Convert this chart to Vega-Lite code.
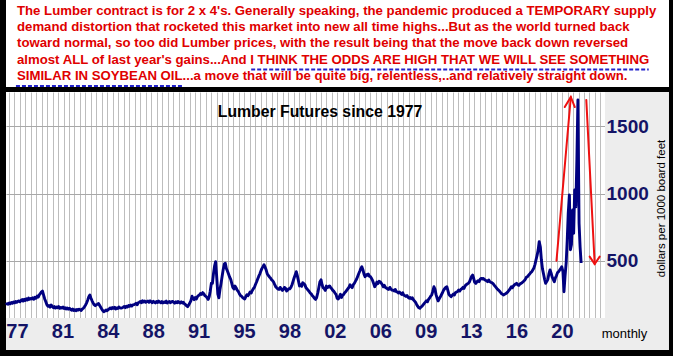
{
  "$schema": "https://vega.github.io/schema/vega-lite/v6.json",
  "background": "#000000",
  "padding": {"left": 4, "top": 0, "right": 6, "bottom": 6},
  "spacing": 5,
  "datasets": {
    "lumber": [
{"t":1977,"v":172},{"t":1977.08,"v":180},{"t":1977.17,"v":176},{"t":1977.25,"v":185},{"t":1977.33,"v":179},{"t":1977.42,"v":188},{"t":1977.5,"v":183},{"t":1977.58,"v":192},{"t":1977.67,"v":186},{"t":1977.75,"v":196},{"t":1977.83,"v":190},{"t":1977.92,"v":197},
{"t":1978,"v":200},{"t":1978.08,"v":194},{"t":1978.17,"v":205},{"t":1978.25,"v":210},{"t":1978.33,"v":199},{"t":1978.42,"v":212},{"t":1978.5,"v":204},{"t":1978.58,"v":216},{"t":1978.67,"v":207},{"t":1978.75,"v":221},{"t":1978.83,"v":212},{"t":1978.92,"v":218},
{"t":1979,"v":215},{"t":1979.08,"v":223},{"t":1979.17,"v":213},{"t":1979.25,"v":228},{"t":1979.33,"v":220},{"t":1979.42,"v":236},{"t":1979.5,"v":229},{"t":1979.58,"v":245},{"t":1979.67,"v":256},{"t":1979.75,"v":268},{"t":1979.83,"v":274},{"t":1979.92,"v":242},
{"t":1980,"v":215},{"t":1980.08,"v":196},{"t":1980.17,"v":172},{"t":1980.25,"v":160},{"t":1980.33,"v":166},{"t":1980.42,"v":154},{"t":1980.5,"v":170},{"t":1980.58,"v":160},{"t":1980.67,"v":150},{"t":1980.75,"v":158},{"t":1980.83,"v":147},{"t":1980.92,"v":155},
{"t":1981,"v":150},{"t":1981.08,"v":158},{"t":1981.17,"v":145},{"t":1981.25,"v":152},{"t":1981.33,"v":147},{"t":1981.42,"v":155},{"t":1981.5,"v":144},{"t":1981.58,"v":150},{"t":1981.67,"v":141},{"t":1981.75,"v":148},{"t":1981.83,"v":139},{"t":1981.92,"v":145},
{"t":1982,"v":137},{"t":1982.08,"v":131},{"t":1982.17,"v":140},{"t":1982.25,"v":129},{"t":1982.33,"v":135},{"t":1982.42,"v":127},{"t":1982.5,"v":137},{"t":1982.58,"v":131},{"t":1982.67,"v":139},{"t":1982.75,"v":134},{"t":1982.83,"v":129},{"t":1982.92,"v":141},
{"t":1983,"v":146},{"t":1983.08,"v":156},{"t":1983.17,"v":170},{"t":1983.25,"v":186},{"t":1983.33,"v":206},{"t":1983.42,"v":232},{"t":1983.5,"v":245},{"t":1983.58,"v":222},{"t":1983.67,"v":201},{"t":1983.75,"v":186},{"t":1983.83,"v":172},{"t":1983.92,"v":165},
{"t":1984,"v":172},{"t":1984.08,"v":176},{"t":1984.17,"v":181},{"t":1984.25,"v":168},{"t":1984.33,"v":155},{"t":1984.42,"v":140},{"t":1984.5,"v":128},{"t":1984.58,"v":120},{"t":1984.67,"v":125},{"t":1984.75,"v":133},{"t":1984.83,"v":127},{"t":1984.92,"v":135},
{"t":1985,"v":141},{"t":1985.08,"v":148},{"t":1985.17,"v":142},{"t":1985.25,"v":151},{"t":1985.33,"v":145},{"t":1985.42,"v":153},{"t":1985.5,"v":140},{"t":1985.58,"v":148},{"t":1985.67,"v":144},{"t":1985.75,"v":155},{"t":1985.83,"v":149},{"t":1985.92,"v":147},
{"t":1986,"v":149},{"t":1986.08,"v":153},{"t":1986.17,"v":159},{"t":1986.25,"v":150},{"t":1986.33,"v":161},{"t":1986.42,"v":155},{"t":1986.5,"v":166},{"t":1986.58,"v":160},{"t":1986.67,"v":169},{"t":1986.75,"v":162},{"t":1986.83,"v":171},{"t":1986.92,"v":173},
{"t":1987,"v":176},{"t":1987.08,"v":182},{"t":1987.17,"v":172},{"t":1987.25,"v":186},{"t":1987.33,"v":190},{"t":1987.42,"v":196},{"t":1987.5,"v":187},{"t":1987.58,"v":201},{"t":1987.67,"v":192},{"t":1987.75,"v":199},{"t":1987.83,"v":190},{"t":1987.92,"v":196},
{"t":1988,"v":199},{"t":1988.08,"v":190},{"t":1988.17,"v":201},{"t":1988.25,"v":195},{"t":1988.33,"v":187},{"t":1988.42,"v":197},{"t":1988.5,"v":191},{"t":1988.58,"v":185},{"t":1988.67,"v":196},{"t":1988.75,"v":189},{"t":1988.83,"v":199},{"t":1988.92,"v":192},
{"t":1989,"v":187},{"t":1989.08,"v":196},{"t":1989.17,"v":185},{"t":1989.25,"v":193},{"t":1989.33,"v":189},{"t":1989.42,"v":199},{"t":1989.5,"v":185},{"t":1989.58,"v":191},{"t":1989.67,"v":196},{"t":1989.75,"v":187},{"t":1989.83,"v":193},{"t":1989.92,"v":197},
{"t":1990,"v":190},{"t":1990.08,"v":184},{"t":1990.17,"v":194},{"t":1990.25,"v":187},{"t":1990.33,"v":196},{"t":1990.42,"v":189},{"t":1990.5,"v":184},{"t":1990.58,"v":193},{"t":1990.67,"v":185},{"t":1990.75,"v":190},{"t":1990.83,"v":179},{"t":1990.92,"v":172},
{"t":1991,"v":163},{"t":1991.08,"v":157},{"t":1991.17,"v":171},{"t":1991.25,"v":186},{"t":1991.33,"v":201},{"t":1991.42,"v":235},{"t":1991.5,"v":219},{"t":1991.58,"v":210},{"t":1991.67,"v":226},{"t":1991.75,"v":214},{"t":1991.83,"v":231},{"t":1991.92,"v":240},
{"t":1992,"v":246},{"t":1992.08,"v":256},{"t":1992.17,"v":249},{"t":1992.25,"v":262},{"t":1992.33,"v":254},{"t":1992.42,"v":239},{"t":1992.5,"v":234},{"t":1992.58,"v":224},{"t":1992.67,"v":212},{"t":1992.75,"v":231},{"t":1992.83,"v":272},{"t":1992.92,"v":333},
{"t":1993,"v":332},{"t":1993.08,"v":402},{"t":1993.17,"v":462},{"t":1993.25,"v":493},{"t":1993.33,"v":382},{"t":1993.42,"v":251},{"t":1993.5,"v":224},{"t":1993.58,"v":281},{"t":1993.67,"v":331},{"t":1993.75,"v":382},{"t":1993.83,"v":431},{"t":1993.92,"v":476},
{"t":1994,"v":481},{"t":1994.08,"v":442},{"t":1994.17,"v":421},{"t":1994.25,"v":401},{"t":1994.33,"v":379},{"t":1994.42,"v":361},{"t":1994.5,"v":331},{"t":1994.58,"v":301},{"t":1994.67,"v":289},{"t":1994.75,"v":311},{"t":1994.83,"v":299},{"t":1994.92,"v":281},
{"t":1995,"v":271},{"t":1995.08,"v":256},{"t":1995.17,"v":241},{"t":1995.25,"v":236},{"t":1995.33,"v":226},{"t":1995.42,"v":219},{"t":1995.5,"v":214},{"t":1995.58,"v":231},{"t":1995.67,"v":246},{"t":1995.75,"v":239},{"t":1995.83,"v":251},{"t":1995.92,"v":266},
{"t":1996,"v":259},{"t":1996.08,"v":276},{"t":1996.17,"v":291},{"t":1996.25,"v":301},{"t":1996.33,"v":321},{"t":1996.42,"v":341},{"t":1996.5,"v":361},{"t":1996.58,"v":381},{"t":1996.67,"v":401},{"t":1996.75,"v":421},{"t":1996.83,"v":441},{"t":1996.92,"v":456},
{"t":1997,"v":470},{"t":1997.08,"v":452},{"t":1997.17,"v":430},{"t":1997.25,"v":401},{"t":1997.33,"v":391},{"t":1997.42,"v":379},{"t":1997.5,"v":371},{"t":1997.58,"v":359},{"t":1997.67,"v":351},{"t":1997.75,"v":339},{"t":1997.83,"v":321},{"t":1997.92,"v":304},
{"t":1998,"v":296},{"t":1998.08,"v":289},{"t":1998.17,"v":286},{"t":1998.25,"v":301},{"t":1998.33,"v":289},{"t":1998.42,"v":279},{"t":1998.5,"v":286},{"t":1998.58,"v":301},{"t":1998.67,"v":294},{"t":1998.75,"v":274},{"t":1998.83,"v":281},{"t":1998.92,"v":291},
{"t":1999,"v":291},{"t":1999.08,"v":301},{"t":1999.17,"v":321},{"t":1999.25,"v":346},{"t":1999.33,"v":371},{"t":1999.42,"v":396},{"t":1999.5,"v":418},{"t":1999.58,"v":389},{"t":1999.67,"v":349},{"t":1999.75,"v":312},{"t":1999.83,"v":321},{"t":1999.92,"v":309},
{"t":2000,"v":336},{"t":2000.08,"v":329},{"t":2000.17,"v":321},{"t":2000.25,"v":299},{"t":2000.33,"v":291},{"t":2000.42,"v":279},{"t":2000.5,"v":271},{"t":2000.58,"v":259},{"t":2000.67,"v":251},{"t":2000.75,"v":239},{"t":2000.83,"v":231},{"t":2000.92,"v":219},
{"t":2001,"v":212},{"t":2001.08,"v":226},{"t":2001.17,"v":261},{"t":2001.25,"v":301},{"t":2001.33,"v":341},{"t":2001.42,"v":357},{"t":2001.5,"v":321},{"t":2001.58,"v":299},{"t":2001.67,"v":291},{"t":2001.75,"v":279},{"t":2001.83,"v":311},{"t":2001.92,"v":299},
{"t":2002,"v":306},{"t":2002.08,"v":312},{"t":2002.17,"v":299},{"t":2002.25,"v":291},{"t":2002.33,"v":279},{"t":2002.42,"v":271},{"t":2002.5,"v":259},{"t":2002.58,"v":249},{"t":2002.67,"v":219},{"t":2002.75,"v":214},{"t":2002.83,"v":231},{"t":2002.92,"v":249},
{"t":2003,"v":226},{"t":2003.08,"v":241},{"t":2003.17,"v":249},{"t":2003.25,"v":261},{"t":2003.33,"v":269},{"t":2003.42,"v":281},{"t":2003.5,"v":291},{"t":2003.58,"v":301},{"t":2003.67,"v":321},{"t":2003.75,"v":309},{"t":2003.83,"v":299},{"t":2003.92,"v":321},
{"t":2004,"v":331},{"t":2004.08,"v":346},{"t":2004.17,"v":361},{"t":2004.25,"v":381},{"t":2004.33,"v":401},{"t":2004.42,"v":421},{"t":2004.5,"v":441},{"t":2004.58,"v":455},{"t":2004.67,"v":431},{"t":2004.75,"v":399},{"t":2004.83,"v":381},{"t":2004.92,"v":396},
{"t":2005,"v":392},{"t":2005.08,"v":401},{"t":2005.17,"v":384},{"t":2005.25,"v":381},{"t":2005.33,"v":369},{"t":2005.42,"v":351},{"t":2005.5,"v":329},{"t":2005.58,"v":306},{"t":2005.67,"v":321},{"t":2005.75,"v":341},{"t":2005.83,"v":329},{"t":2005.92,"v":346},
{"t":2006,"v":343},{"t":2006.08,"v":334},{"t":2006.17,"v":321},{"t":2006.25,"v":306},{"t":2006.33,"v":316},{"t":2006.42,"v":299},{"t":2006.5,"v":296},{"t":2006.58,"v":289},{"t":2006.67,"v":286},{"t":2006.75,"v":301},{"t":2006.83,"v":289},{"t":2006.92,"v":281},
{"t":2007,"v":281},{"t":2007.08,"v":274},{"t":2007.17,"v":286},{"t":2007.25,"v":269},{"t":2007.33,"v":268},{"t":2007.42,"v":259},{"t":2007.5,"v":266},{"t":2007.58,"v":257},{"t":2007.67,"v":249},{"t":2007.75,"v":261},{"t":2007.83,"v":244},{"t":2007.92,"v":239},
{"t":2008,"v":234},{"t":2008.08,"v":241},{"t":2008.17,"v":227},{"t":2008.25,"v":220},{"t":2008.33,"v":226},{"t":2008.42,"v":217},{"t":2008.5,"v":223},{"t":2008.58,"v":209},{"t":2008.67,"v":199},{"t":2008.75,"v":189},{"t":2008.83,"v":174},{"t":2008.92,"v":159},
{"t":2009,"v":149},{"t":2009.08,"v":145},{"t":2009.17,"v":156},{"t":2009.25,"v":161},{"t":2009.33,"v":171},{"t":2009.42,"v":182},{"t":2009.5,"v":191},{"t":2009.58,"v":201},{"t":2009.67,"v":194},{"t":2009.75,"v":211},{"t":2009.83,"v":221},{"t":2009.92,"v":236},
{"t":2010,"v":246},{"t":2010.08,"v":271},{"t":2010.17,"v":306},{"t":2010.25,"v":289},{"t":2010.33,"v":249},{"t":2010.42,"v":219},{"t":2010.5,"v":201},{"t":2010.58,"v":216},{"t":2010.67,"v":231},{"t":2010.75,"v":246},{"t":2010.83,"v":261},{"t":2010.92,"v":281},
{"t":2011,"v":291},{"t":2011.08,"v":301},{"t":2011.17,"v":306},{"t":2011.25,"v":279},{"t":2011.33,"v":249},{"t":2011.42,"v":239},{"t":2011.5,"v":232},{"t":2011.58,"v":241},{"t":2011.67,"v":251},{"t":2011.75,"v":244},{"t":2011.83,"v":261},{"t":2011.92,"v":266},
{"t":2012,"v":271},{"t":2012.08,"v":281},{"t":2012.17,"v":274},{"t":2012.25,"v":286},{"t":2012.33,"v":291},{"t":2012.42,"v":301},{"t":2012.5,"v":294},{"t":2012.58,"v":311},{"t":2012.67,"v":321},{"t":2012.75,"v":326},{"t":2012.83,"v":331},{"t":2012.92,"v":341},
{"t":2013,"v":361},{"t":2013.08,"v":381},{"t":2013.17,"v":393},{"t":2013.25,"v":369},{"t":2013.33,"v":339},{"t":2013.42,"v":331},{"t":2013.5,"v":343},{"t":2013.58,"v":351},{"t":2013.67,"v":344},{"t":2013.75,"v":361},{"t":2013.83,"v":368},{"t":2013.92,"v":364},
{"t":2014,"v":368},{"t":2014.08,"v":359},{"t":2014.17,"v":354},{"t":2014.25,"v":351},{"t":2014.33,"v":344},{"t":2014.42,"v":356},{"t":2014.5,"v":343},{"t":2014.58,"v":339},{"t":2014.67,"v":336},{"t":2014.75,"v":329},{"t":2014.83,"v":319},{"t":2014.92,"v":309},
{"t":2015,"v":299},{"t":2015.08,"v":289},{"t":2015.17,"v":281},{"t":2015.25,"v":274},{"t":2015.33,"v":264},{"t":2015.42,"v":254},{"t":2015.5,"v":249},{"t":2015.58,"v":245},{"t":2015.67,"v":251},{"t":2015.75,"v":256},{"t":2015.83,"v":261},{"t":2015.92,"v":271},
{"t":2016,"v":281},{"t":2016.08,"v":291},{"t":2016.17,"v":306},{"t":2016.25,"v":299},{"t":2016.33,"v":311},{"t":2016.42,"v":321},{"t":2016.5,"v":326},{"t":2016.58,"v":331},{"t":2016.67,"v":319},{"t":2016.75,"v":316},{"t":2016.83,"v":326},{"t":2016.92,"v":331},
{"t":2017,"v":336},{"t":2017.08,"v":343},{"t":2017.17,"v":351},{"t":2017.25,"v":361},{"t":2017.33,"v":376},{"t":2017.42,"v":381},{"t":2017.5,"v":391},{"t":2017.58,"v":399},{"t":2017.67,"v":411},{"t":2017.75,"v":418},{"t":2017.83,"v":431},{"t":2017.92,"v":446},
{"t":2018,"v":471},{"t":2018.08,"v":505},{"t":2018.17,"v":541},{"t":2018.25,"v":581},{"t":2018.33,"v":642},{"t":2018.42,"v":601},{"t":2018.5,"v":505},{"t":2018.58,"v":441},{"t":2018.67,"v":399},{"t":2018.75,"v":361},{"t":2018.83,"v":331},{"t":2018.92,"v":346},
{"t":2019,"v":361},{"t":2019.08,"v":401},{"t":2019.17,"v":431},{"t":2019.25,"v":409},{"t":2019.33,"v":379},{"t":2019.42,"v":361},{"t":2019.5,"v":343},{"t":2019.58,"v":371},{"t":2019.67,"v":389},{"t":2019.75,"v":411},{"t":2019.83,"v":418},{"t":2019.92,"v":431},
{"t":2020,"v":441},{"t":2020.08,"v":455},{"t":2020.17,"v":419},{"t":2020.25,"v":269},{"t":2020.33,"v":381},{"t":2020.42,"v":483},{"t":2020.5,"v":649},{"t":2020.58,"v":851},{"t":2020.67,"v":990},{"t":2020.75,"v":582},{"t":2020.83,"v":621},{"t":2020.92,"v":878},
{"t":2021,"v":704},{"t":2021.08,"v":1027},{"t":2021.17,"v":901},{"t":2021.25,"v":1252},{"t":2021.33,"v":1697},{"t":2021.42,"v":779},{"t":2021.5,"v":601},{"t":2021.58,"v":483}
    ],
    "arrows": [
      {"seg": "up", "o": 1, "t": 2019.67, "v": 500},
      {"seg": "up", "o": 2, "t": 2020.78, "v": 1720},
      {"seg": "uphead", "o": 1, "t": 2020.31, "v": 1645},
      {"seg": "uphead", "o": 2, "t": 2020.78, "v": 1720},
      {"seg": "uphead", "o": 3, "t": 2021.09, "v": 1645},
      {"seg": "down", "o": 1, "t": 2021.98, "v": 1698},
      {"seg": "down", "o": 2, "t": 2022.63, "v": 475},
      {"seg": "downhead", "o": 1, "t": 2022.24, "v": 530},
      {"seg": "downhead", "o": 2, "t": 2022.63, "v": 475},
      {"seg": "downhead", "o": 3, "t": 2023.02, "v": 530}
    ]
  },
  "vconcat": [
    {
      "width": 663,
      "height": 87,
      "view": {"fill": "#ffffff", "stroke": null},
      "layer": [
        {
          "data": {"values": [
            {"line": 1, "text": "The Lumber contract is for 2 x 4's. Generally speaking, the pandemic produced a TEMPORARY supply"},
            {"line": 2, "text": "demand distortion that rocketed this market into new all time highs...But as the world turned back"},
            {"line": 3, "text": "toward normal, so too did Lumber prices, with the result being that the move back down reversed"},
            {"line": 4, "text": "almost ALL of last year's gains...And I THINK THE ODDS ARE HIGH THAT WE WILL SEE SOMETHING"},
            {"line": 5, "text": "SIMILAR IN SOYBEAN OIL...a move that will be quite big, relentless,..and relatively straight down."}
          ]},
          "mark": {"type": "text", "align": "left", "baseline": "alphabetic", "font": "Liberation Sans", "fontWeight": "bold", "fontSize": 13.2, "color": "#e00000"},
          "encoding": {
            "x": {"datum": 1.66, "type": "quantitative", "scale": {"domain": [0, 100], "nice": false, "zero": false}, "axis": null},
            "y": {"field": "line", "type": "quantitative", "scale": {"domain": [0.1212, 5.394], "reverse": true, "nice": false, "zero": false}, "axis": null},
            "text": {"field": "text"}
          }
        },
        {
          "data": {"values": [
            {"line": 4.33, "from": 36.98, "to": 96.94},
            {"line": 5.33, "from": 1.5, "to": 26.67}
          ]},
          "mark": {"type": "rule", "color": "#2222cc", "strokeWidth": 2, "strokeDash": [4, 2]},
          "encoding": {
            "x": {"field": "from", "type": "quantitative", "scale": {"domain": [0, 100], "nice": false, "zero": false}, "axis": null},
            "x2": {"field": "to"},
            "y": {"field": "line", "type": "quantitative", "scale": {"domain": [0.1212, 5.394], "reverse": true, "nice": false, "zero": false}, "axis": null}
          }
        }
      ]
    },
    {
      "width": 599,
      "height": 226,
      "view": {"fill": "#ffffff", "stroke": null},
      "resolve": {"axis": {"x": "independent", "y": "independent"}},
      "layer": [
        {
          "data": {"values": [{}]},
          "mark": {"type": "rect", "color": "#ededed", "clip": false},
          "encoding": {
            "x": {"datum": 2023.43, "type": "quantitative", "scale": {"domain": [1977, 2023.43], "nice": false, "zero": false}, "axis": null},
            "x2": {"datum": 2028.39},
            "y": {"datum": -165.4, "type": "quantitative", "scale": {"domain": [73, 1757], "nice": false, "zero": false}, "axis": null},
            "y2": {"datum": 1757}
          }
        },
        {
          "data": {"values": [{}]},
          "mark": {"type": "rect", "color": "#ededed", "clip": false},
          "encoding": {
            "x": {"datum": 1977, "type": "quantitative", "scale": {"domain": [1977, 2023.43], "nice": false, "zero": false}, "axis": null},
            "x2": {"datum": 2023.43},
            "y": {"datum": -165.4, "type": "quantitative", "scale": {"domain": [73, 1757], "nice": false, "zero": false}, "axis": null},
            "y2": {"datum": 73}
          }
        },
        {
          "data": {"name": "lumber"},
          "mark": {"type": "line", "color": "#000080", "strokeWidth": 2.9, "strokeJoin": "round"},
          "encoding": {
            "x": {"field": "t", "type": "quantitative", "scale": {"domain": [1977, 2023.43], "nice": false, "zero": false},
              "axis": {"orient": "bottom", "values": {"expr": "sequence(1977.21, 2023.43, 0.4247)"}, "labels": false, "ticks": false, "domain": false, "grid": true, "gridColor": "#bdbdbd", "gridWidth": 1, "title": null, "zindex": 0}},
            "y": {"field": "v", "type": "quantitative", "scale": {"domain": [73, 1757], "nice": false, "zero": false},
              "axis": {"orient": "left", "values": [500, 1000, 1500], "labels": false, "ticks": false, "domain": false, "grid": true, "gridColor": "#a8a8a8", "gridWidth": 1, "title": null, "zindex": 0}}
          }
        },
        {
          "data": {"values": [{"label": "Lumber Futures since 1977"}]},
          "mark": {"type": "text", "font": "Liberation Sans", "fontWeight": "bold", "fontSize": 15.8, "color": "#000000", "align": "center", "baseline": "middle"},
          "encoding": {
            "x": {"datum": 2001.34, "type": "quantitative", "scale": {"domain": [1977, 2023.43], "nice": false, "zero": false}, "axis": null},
            "y": {"datum": 1608, "type": "quantitative", "scale": {"domain": [73, 1757], "nice": false, "zero": false}, "axis": null},
            "text": {"field": "label"}
          }
        },
        {
          "data": {"name": "arrows"},
          "mark": {"type": "line", "color": "#ee1111", "strokeWidth": 2, "strokeCap": "round", "strokeJoin": "miter"},
          "encoding": {
            "x": {"field": "t", "type": "quantitative", "scale": {"domain": [1977, 2023.43], "nice": false, "zero": false},
              "axis": {"orient": "bottom", "values": [1977.85, 1981.37, 1984.89, 1988.41, 1991.93, 1995.45, 1998.97, 2002.49, 2006.01, 2009.53, 2013.05, 2016.57, 2020.09],
                "labelExpr": "slice('' + floor(datum.value), 2)", "grid": false, "ticks": false, "domain": false,
                "labelFont": "Liberation Sans", "labelFontWeight": "bold", "labelFontSize": 20, "labelColor": "#141466", "labelPadding": 3, "labelFlush": false, "labelOverlap": false,
                "title": "monthly", "titleFont": "Liberation Sans", "titleFontSize": 13, "titleFontWeight": "normal", "titleColor": "#000000",
                "titleX": 618, "titleY": 15, "titleAlign": "center", "titleBaseline": "middle", "zindex": 1}},
            "y": {"field": "v", "type": "quantitative", "scale": {"domain": [73, 1757], "nice": false, "zero": false},
              "axis": {"orient": "right", "values": [500, 1000, 1500], "format": "d", "grid": false, "ticks": false, "domain": false,
                "labelFont": "Liberation Sans", "labelFontWeight": "bold", "labelFontSize": 19, "labelColor": "#141466", "labelPadding": 1, "labelFlush": false,
                "title": "dollars per 1000 board feet", "titleFont": "Liberation Sans", "titleFontSize": 11.5, "titleFontWeight": "normal", "titleColor": "#000000",
                "titleAngle": 270, "titleX": 56, "titleY": 116, "titleAlign": "center", "titleBaseline": "middle", "zindex": 1}},
            "detail": {"field": "seg", "type": "nominal"},
            "order": {"field": "o", "type": "quantitative"}
          }
        }
      ]
    }
  ]
}
